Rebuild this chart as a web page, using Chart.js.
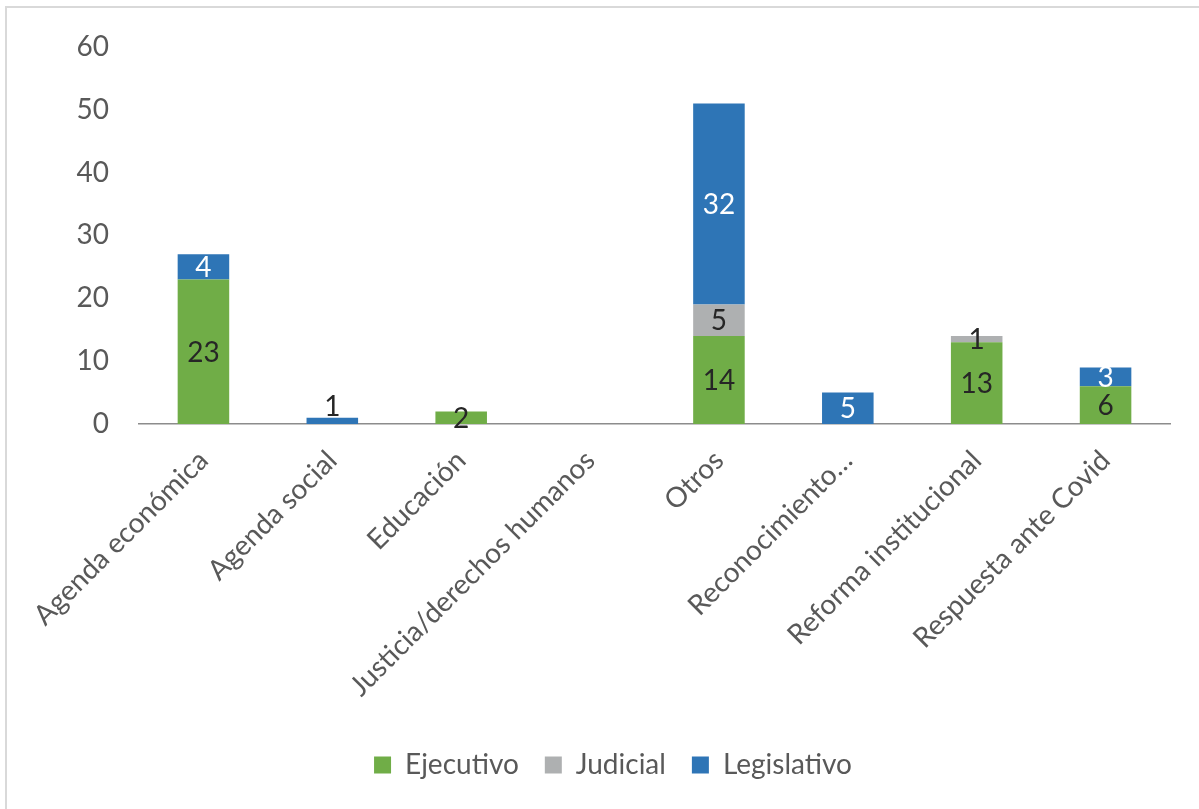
<!DOCTYPE html>
<html>
<head>
<meta charset="utf-8">
<script src="https://cdn.jsdelivr.net/npm/chart.js@4/dist/chart.umd.min.js"></script>
<style>
  html, body { margin: 0; padding: 0; background: #fff; }
  #wrap { position: relative; width: 1199px; height: 809px; }
  #frame {
    position: absolute; left: 5px; top: 6px; right: 0; bottom: 0;
    border-left: 2px solid #d9d9d9; border-top: 2px solid #d9d9d9;
    pointer-events: none;
  }
</style>
</head>
<body>
<div id="wrap">
  <canvas id="chart" width="1199" height="809"></canvas>
  <div id="frame"></div>
</div>
<script>
const categories = ['Agenda económica', 'Agenda social', 'Educación', 'Justicia/derechos humanos',
  'Otros', 'Reconocimiento…', 'Reforma institucional', 'Respuesta ante Covid'];
const ejecutivo = [23, 0, 2, 0, 14, 0, 13, 6];
const judicial = [0, 0, 0, 0, 5, 0, 1, 0];
const legislativo = [4, 1, 0, 0, 32, 5, 0, 3];
const yTicks = [0, 10, 20, 30, 40, 50, 60];

const FONT = 'Lato, "Open Sans", sans-serif';
const textGrey = '#595959';

// value labels inside the bar segments
const barLabels = {
  id: 'barLabels',
  afterDatasetsDraw(chart) {
    const c = chart.ctx;
    c.save();
    c.font = '28px ' + FONT;
    c.textAlign = 'center';
    c.textBaseline = 'middle';
    chart.data.datasets.forEach((ds, i) => {
      const meta = chart.getDatasetMeta(i);
      meta.data.forEach((bar, j) => {
        const v = ds.data[j];
        if (!v) return;
        const h = Math.abs(bar.base - bar.y);
        let y = (bar.y + bar.base) / 2;
        let color = ds.labelColor;
        if (ds.label === 'Legislativo' && h < 10) {
          y = bar.y - 12;
          color = '#262626';
        }
        c.fillStyle = color;
        c.fillText(String(v), bar.x, y + 1);
      });
    });
    c.restore();
  }
};

new Chart(document.getElementById('chart'), {
  type: 'bar',
  data: {
    labels: categories,
    datasets: [
      { label: 'Ejecutivo', data: ejecutivo, backgroundColor: '#70ad47', labelColor: '#262626' },
      { label: 'Judicial', data: judicial, backgroundColor: '#aeb0b1', labelColor: '#262626' },
      { label: 'Legislativo', data: legislativo, backgroundColor: '#2e75b6', labelColor: '#ffffff' }
    ]
  },
  options: {
    responsive: false,
    animation: false,
    layout: { padding: { top: 44, right: 29, left: 56, bottom: 20 } },
    datasets: { bar: { categoryPercentage: 1, barPercentage: 0.4 } },
    plugins: {
      tooltip: { enabled: false },
      legend: {
        position: 'bottom',
        labels: {
          boxWidth: 17, boxHeight: 17, padding: 26,
          color: textGrey,
          font: { family: FONT, size: 28 }
        }
      }
    },
    scales: {
      x: {
        stacked: true,
        grid: { display: false, drawTicks: false },
        border: { display: true, color: '#8c8c8c', width: 1.5 },
        ticks: {
          color: textGrey, font: { family: FONT, size: 28 },
          minRotation: 45, maxRotation: 45, autoSkip: false, padding: 20
        },
        afterFit(scale) { scale.height = 301; }
      },
      y: {
        stacked: true,
        min: 0, max: 60,
        grid: { display: false, drawTicks: false },
        border: { display: false },
        afterBuildTicks(scale) { scale.ticks = yTicks.map(v => ({ value: v })); },
        ticks: { color: textGrey, font: { family: FONT, size: 28 }, padding: 30 },
        afterFit(scale) { scale.width = 83; }
      }
    }
  },
  plugins: [barLabels]
});
</script>
</body>
</html>
